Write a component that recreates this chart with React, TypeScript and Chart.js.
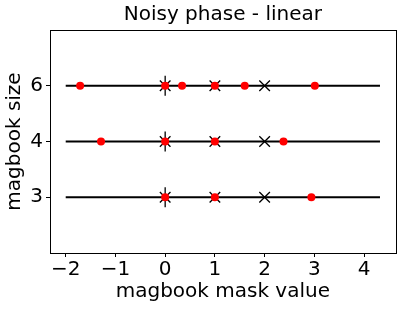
import React, { useEffect, useRef } from "react";
import { Chart, registerables } from "chart.js";
Chart.register(...registerables);

const titleText = "Noisy phase - linear";
const xTitle = "magbook mask value";
const yTitle = "magbook size";
const sizeLabels = ["3", "4", "6"];
const xTicks = [-2, -1, 0, 1, 2, 3, 4];
const lineStart = -2;
const lineEnd = 4.32;
const maskValues = [0, 1, 2];
const phaseLineValues = [0];
const noisy3 = [0, 1, 2.94];
const noisy4 = [-1.29, 0, 1, 2.38];
const noisy6 = [-1.71, 0, 0.34, 1, 1.6, 3.01];
const noisyRows = [noisy3, noisy4, noisy6];

const FONT = "'DejaVu Sans', sans-serif";

const framePlugin = {
  id: "frame",
  afterDraw(chart: any) {
    const { ctx, chartArea } = chart;
    ctx.save();
    ctx.strokeStyle = "#000";
    ctx.lineWidth = 1;
    ctx.strokeRect(
      Math.round(chartArea.left) + 0.5,
      Math.round(chartArea.top) + 0.5,
      Math.round(chartArea.right - chartArea.left),
      Math.round(chartArea.bottom - chartArea.top)
    );
    ctx.fillStyle = "#000";
    ctx.font = `20px ${FONT}`;
    ctx.textAlign = "center";
    ctx.textBaseline = "middle";
    ctx.fillText(titleText, (chartArea.left + chartArea.right) / 2, 15);
    ctx.restore();
  },
};

export default function App() {
  const ref = useRef<HTMLCanvasElement>(null);
  useEffect(() => {
    if (!ref.current) return;
    const lineSets = sizeLabels.map((_, i) => ({
      type: "line" as const,
      data: [
        { x: lineStart, y: i },
        { x: lineEnd, y: i },
      ],
      borderColor: "#000",
      borderWidth: 2,
      pointRadius: 0,
      order: 3,
      showLine: true,
    }));
    const crossData = sizeLabels.flatMap((_, i) => maskValues.map((v) => ({ x: v, y: i })));
    const vlineData = sizeLabels.flatMap((_, i) => phaseLineValues.map((v) => ({ x: v, y: i })));
    const redData = noisyRows.flatMap((row, i) => row.map((v) => ({ x: v, y: i })));
    const chart = new Chart(ref.current, {
      type: "scatter",
      data: {
        datasets: [
          ...lineSets,
          {
            data: vlineData,
            pointStyle: "line",
            rotation: 90,
            pointRadius: 10,
            borderColor: "#000",
            borderWidth: 1.3,
            order: 2,
          } as any,
          {
            data: crossData,
            pointStyle: "crossRot",
            pointRadius: 7.5,
            borderColor: "#000",
            borderWidth: 1.3,
            order: 1,
          },
          {
            data: redData,
            pointStyle: "circle",
            pointRadius: 4,
            backgroundColor: "#ff0000",
            borderWidth: 0,
            order: 0,
          },
        ],
      },
      options: {
        responsive: false,
        animation: false,
        layout: { padding: { top: 30, right: 11, left: 0, bottom: 0 } },
        plugins: { legend: { display: false }, tooltip: { enabled: false }, title: { display: false } },
        scales: {
          x: {
            type: "linear",
            min: -2.316,
            max: 4.636,
            afterFit: (s: any) => {
              s.height = 58;
            },
            afterBuildTicks: (s: any) => {
              s.ticks = xTicks.map((v) => ({ value: v }));
            },
            border: { display: false },
            grid: { display: true, drawOnChartArea: false, drawTicks: true, tickLength: 4, color: "#000" },
            ticks: {
              color: "#000",
              font: { family: FONT, size: 20 },
              padding: 1,
              maxRotation: 0,
              callback: (v: any) => (Number(v) < 0 ? "\u2212" + Math.abs(Number(v)) : String(v)),
            },
            title: {
              display: true,
              text: xTitle,
              color: "#000",
              font: { family: FONT, size: 20 },
              padding: { top: 0, bottom: 7 },
            },
          },
          y: {
            type: "linear",
            min: -1,
            max: 3,
            afterFit: (s: any) => {
              s.width = 50;
            },
            afterBuildTicks: (s: any) => {
              s.ticks = sizeLabels.map((_, i) => ({ value: i }));
            },
            border: { display: false },
            grid: { display: true, drawOnChartArea: false, drawTicks: true, tickLength: 4, color: "#000" },
            ticks: {
              color: "#000",
              font: { family: FONT, size: 20 },
              padding: 3,
              callback: (v: any) => sizeLabels[Number(v)] ?? "",
            },
            title: {
              display: true,
              text: yTitle,
              color: "#000",
              font: { family: FONT, size: 20 },
              padding: { top: 3, bottom: 0 },
            },
          },
        },
      },
      plugins: [framePlugin],
    });
    return () => chart.destroy();
  }, []);
  return (
    <div style={{ position: "fixed", left: 0, top: 0, width: 407, height: 311, background: "#fff" }}>
      <canvas ref={ref} width={407} height={311} style={{ display: "block" }} />
    </div>
  );
}
